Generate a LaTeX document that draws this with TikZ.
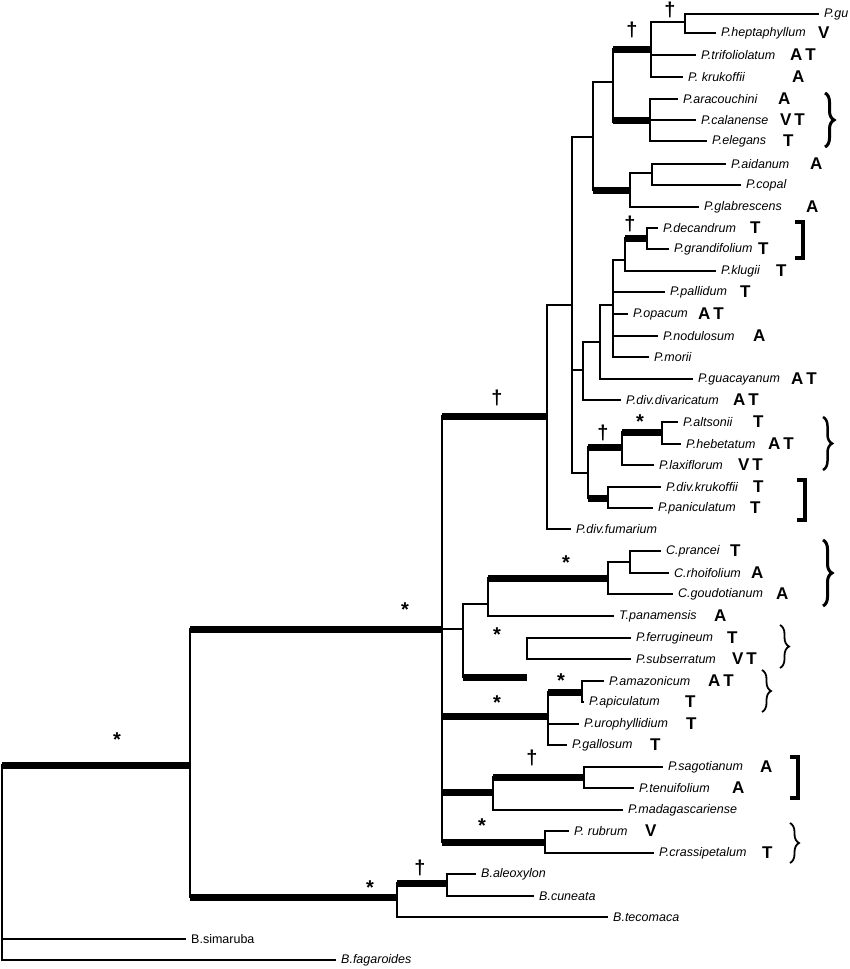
\documentclass[tikz,border=0pt]{standalone}
\usepackage{fontspec}
\setmainfont{Liberation Sans}
\usetikzlibrary{decorations.pathreplacing}
\tikzset{br/.style={line width=1.5pt,line cap=rect},
 tk/.style={line width=7pt},
 nm/.style={font=\fontsize{12.5}{14}\selectfont\itshape,inner sep=0pt,anchor=west},
 lt/.style={font=\fontsize{17}{18}\selectfont\bfseries,inner sep=0pt,anchor=west},
 mk/.style={font=\fontsize{20}{20}\selectfont\bfseries,inner sep=0pt},
 brc/.style={decorate,decoration={brace,amplitude=9pt},line width=2.5pt},
 bkt/.style={line width=4pt}}
\newcommand\lf[6]{\draw[br] (#2,#1) -- (#3,#1); \node[nm] at (#3+6,#1) {#4}; \node[lt] at (#6,#1) {#5};}
\newcommand\lfn[4]{\draw[br] (#2,#1) -- (#3,#1); \node[nm] at (#3+6,#1) {#4};}
\begin{document}
\begin{tikzpicture}[x=1pt,y=-1pt]
\useasboundingbox (0,0) rectangle (850,969);
% root
\draw[br] (2,765) -- (2,960);
\draw[tk] (2,765) -- (190,765); \node[mk] at (117,740) {*};
\draw[br] (2,939) -- (185,939); \node[font=\fontsize{12.5}{14}\selectfont,inner sep=0pt,anchor=west] at (191,939) {B.simaruba};
\lfn{960}{2}{335}{B.fagaroides}
% node190
\draw[br] (190,629) -- (190,897);
\draw[tk] (190,629) -- (442,629); \node[mk] at (405,610) {*};
\draw[tk] (190,897) -- (397,897); \node[mk] at (370,888) {*};
\draw[br] (397,883) -- (397,917);
\draw[tk] (397,883) -- (447,883); \node[mk] at (420,868) {\dag};
\lfn{917}{397}{607}{B.tecomaca}
\draw[br] (447,874) -- (447,896);
\lfn{874}{447}{475}{B.aleoxylon}
\lfn{896}{447}{533}{B.cuneata}
% node442
\draw[br] (442,416) -- (442,842);
\draw[tk] (442,416) -- (547,416); \node[mk] at (497,398) {\dag};
\draw[br] (442,629) -- (463,629);
\draw[tk] (442,716) -- (548,716); \node[mk] at (497,703) {*};
\draw[tk] (442,792) -- (493,792);
\draw[tk] (442,842) -- (545,842); \node[mk] at (482,826) {*};
% clade E
\draw[br] (463,604) -- (463,677);
\draw[br] (463,604) -- (488,604);
\draw[tk] (463,677) -- (527,677); \node[mk] at (497,635) {*};
\draw[br] (488,578) -- (488,616);
\draw[tk] (488,578) -- (608,578); \node[mk] at (566,563) {*};
\lf{616}{488}{613}{T.panamensis}{A}{714}
\draw[br] (608,562) -- (608,594);
\draw[br] (608,562) -- (630,562);
\lf{594}{608}{672}{C.goudotianum}{A}{776}
\draw[br] (630,551) -- (630,573);
\lf{551}{630}{660}{C.prancei}{T}{730}
\lf{573}{630}{668}{C.rhoifolium}{A}{751}
\draw[br] (527,638) -- (527,659);
\lf{638}{527}{630}{P.ferrugineum}{T}{727}
\lf{659}{527}{630}{P.subserratum}{V\,T}{732}
% amazonicum clade
\draw[br] (548,692) -- (548,745);
\draw[tk] (548,692) -- (582,692); \node[mk] at (561,681) {*};
\lf{724}{548}{578}{P.urophyllidium}{T}{686}
\lf{745}{548}{566}{P.gallosum}{T}{650}
\draw[br] (582,681) -- (582,702);
\lf{681}{582}{603}{P.amazonicum}{A\,T}{708}
\lf{702}{582}{583}{P.apiculatum}{T}{685}
% sagotianum clade
\draw[br] (493,777) -- (493,810);
\draw[tk] (493,777) -- (584,777); \node[mk] at (532,758) {\dag};
\lfn{810}{493}{622}{P.madagascariense}
\draw[br] (584,767) -- (584,788);
\lf{767}{584}{662}{P.sagotianum}{A}{760}
\lf{788}{584}{633}{P.tenuifolium}{A}{732}
\draw[br] (545,831) -- (545,853);
\lf{831}{545}{568}{P. rubrum}{V}{645}
\lf{853}{545}{653}{P.crassipetalum}{T}{762}
% clade D
\draw[br] (547,305) -- (547,529);
\draw[br] (547,305) -- (572,305);
\lfn{529}{547}{570}{P.div.fumarium}
\draw[br] (572,137) -- (572,473);
\draw[br] (572,137) -- (593,137);
\draw[br] (572,370) -- (583,370);
\draw[br] (572,473) -- (588,473);
% top group
\draw[br] (593,82) -- (593,190);
\draw[br] (593,82) -- (613,82);
\draw[tk] (593,190) -- (630,190);
\draw[br] (613,49) -- (613,122);
\draw[tk] (613,49) -- (651,49); \node[mk] at (632,30) {\dag};
\draw[tk] (613,120) -- (650,120);
\draw[br] (651,22) -- (651,77);
\draw[br] (651,22) -- (685,22); \node[mk] at (670,10) {\dag};
\lf{55}{651}{695}{P.trifoliolatum}{A\,T}{790}
\lf{77}{651}{682}{P. krukoffii}{A}{792}
\draw[br] (685,14) -- (685,33);
\lfn{14}{685}{818}{P.gu}
\lf{33}{685}{715}{P.heptaphyllum}{V}{818}
\draw[br] (650,99) -- (650,141);
\lf{99}{650}{677}{P.aracouchini}{A}{778}
\lf{120}{650}{695}{P.calanense}{V\,T}{780}
\lf{141}{650}{706}{P.elegans}{T}{783}
\draw[br] (630,173) -- (630,207);
\draw[br] (630,173) -- (652,173);
\lf{207}{630}{698}{P.glabrescens}{A}{806}
\draw[br] (652,164) -- (652,185);
\lf{164}{652}{725}{P.aidanum}{A}{810}
\lfn{185}{652}{740}{P.copal}
% decandrum group
\draw[br] (583,342) -- (583,400);
\draw[br] (583,342) -- (600,342);
\lf{400}{583}{620}{P.div.divaricatum}{A\,T}{733}
\draw[br] (600,305) -- (600,379);
\draw[br] (600,305) -- (613,305);
\lf{379}{600}{692}{P.guacayanum}{A\,T}{791}
\draw[br] (613,260) -- (613,357);
\draw[br] (613,260) -- (625,260);
\lf{292}{613}{664}{P.pallidum}{T}{740}
\lf{314}{613}{627}{P.opacum}{A\,T}{698}
\lf{336}{613}{657}{P.nodulosum}{A}{753}
\lfn{357}{613}{648}{P.morii}
\draw[br] (625,238) -- (625,271);
\draw[tk] (625,238) -- (647,238); \node[mk] at (630,224) {\dag};
\lf{271}{625}{715}{P.klugii}{T}{776}
\draw[br] (647,228) -- (647,249);
\lf{228}{647}{657}{P.decandrum}{T}{750}
\lf{249}{647}{668}{P.grandifolium}{T}{758}
% altsonii group
\draw[br] (588,447) -- (588,498);
\draw[tk] (588,447) -- (622,447); \node[mk] at (603,433) {\dag};
\draw[tk] (588,498) -- (608,498);
\draw[br] (622,432) -- (622,465);
\draw[tk] (622,432) -- (662,432); \node[mk] at (640,422) {*};
\lf{465}{622}{653}{P.laxiflorum}{V\,T}{738}
\draw[br] (662,422) -- (662,444);
\lf{422}{662}{677}{P.altsonii}{T}{753}
\lf{444}{662}{680}{P.hebetatum}{A\,T}{768}
\draw[br] (608,487) -- (608,508);
\lf{487}{608}{660}{P.div.krukoffii}{T}{753}
\lf{508}{608}{652}{P.paniculatum}{T}{750}
% braces and brackets
\draw[brc,line width=3pt] (825,93) -- (825,147);
\draw[bkt] (795,222) -- (803,222) -- (803,258) -- (795,258);
\draw[brc] (823,417) -- (823,470);
\draw[bkt] (797,480) -- (805,480) -- (805,520) -- (797,520);
\draw[brc,line width=3pt] (823,540) -- (823,606);
\draw[brc,line width=1.8pt] (780,625) -- (780,668);
\draw[brc,line width=1.8pt] (762,670) -- (762,712);
\draw[bkt] (790,757) -- (798,757) -- (798,798) -- (790,798);
\draw[brc,line width=1.8pt] (790,823) -- (790,863);
\end{tikzpicture}
\end{document}
